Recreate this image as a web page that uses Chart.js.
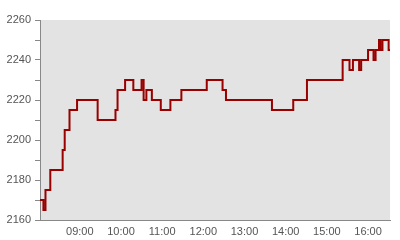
<!DOCTYPE html>
<html>
<head>
<meta charset="utf-8">
<script src="https://cdn.jsdelivr.net/npm/chart.js@4/dist/chart.umd.min.js"></script>
<style>
html,body{margin:0;padding:0;background:#fff;}
#wrap{width:400px;height:240px;}
</style>
</head>
<body>
<div id="wrap"><canvas id="c" width="400" height="240"></canvas></div>
<script>
// minutes since 00:00 at which the price changes
const times = [482, 487, 490, 497, 515, 518, 525, 536, 566, 592, 595, 606, 618, 630, 633, 637, 645, 658, 672, 688, 725, 748, 753, 820, 851, 871, 923, 933, 938, 947, 950, 960, 968, 971, 976, 978, 981, 990, 992];
const prices = [2170, 2165, 2175, 2185, 2195, 2205, 2215, 2220, 2210, 2215, 2225, 2230, 2225, 2230, 2220, 2225, 2220, 2215, 2220, 2225, 2230, 2225, 2220, 2215, 2220, 2230, 2240, 2235, 2240, 2235, 2240, 2245, 2240, 2245, 2250, 2245, 2250, 2245, 2245];
const hourTicks = [540, 600, 660, 720, 780, 840, 900, 960];
const hourLabels = ['09:00', '10:00', '11:00', '12:00', '13:00', '14:00', '15:00', '16:00'];
const xMin = 482, xMax = 992;
const yMin = 2160, yMax = 2260;

const points = times.map((t, i) => ({x: t, y: prices[i]}));

const bgPlugin = {
  id: 'bg',
  beforeDraw(chart) {
    const {ctx, chartArea: a} = chart;
    ctx.save();
    ctx.fillStyle = '#e3e3e3';
    ctx.fillRect(a.left, a.top, a.right - a.left, a.bottom - a.top);
    ctx.restore();
  }
};

new Chart(document.getElementById('c'), {
  type: 'line',
  data: {
    datasets: [{
      data: points,
      borderColor: '#990000',
      borderWidth: 2,
      pointRadius: 0,
      stepped: true,
      fill: false
    }]
  },
  options: {
    responsive: false,
    animation: false,
    layout: {padding: {top: 20, right: 10, left: 0, bottom: 0}},
    plugins: {legend: {display: false}, tooltip: {enabled: false}},
    scales: {
      x: {
        type: 'linear',
        min: xMin,
        max: xMax,
        afterBuildTicks(scale) {
          scale.ticks = hourTicks.map(v => ({value: v}));
        },
        afterFit(scale) { scale.height = 20; },
        grid: {display: false, drawTicks: false},
        border: {display: true, color: '#888', width: 1},
        ticks: {
          padding: 5,
          color: '#555',
          font: {family: 'Liberation Sans, Arial, sans-serif', size: 11},
          maxRotation: 0,
          autoSkip: false,
          callback(v) {
            const i = hourTicks.indexOf(v);
            return i >= 0 ? hourLabels[i] : '';
          }
        }
      },
      y: {
        min: yMin,
        max: yMax,
        afterFit(scale) { scale.width = 40; },
        grid: {drawOnChartArea: false, drawTicks: true, tickLength: 5, color: '#888'},
        border: {display: true, color: '#888', width: 1},
        ticks: {
          stepSize: 10,
          padding: 4,
          color: '#555',
          font: {family: 'Liberation Sans, Arial, sans-serif', size: 11},
          callback(v) { return v % 20 === 0 ? String(v) : ''; }
        }
      }
    }
  },
  plugins: [bgPlugin]
});
</script>
</body>
</html>
